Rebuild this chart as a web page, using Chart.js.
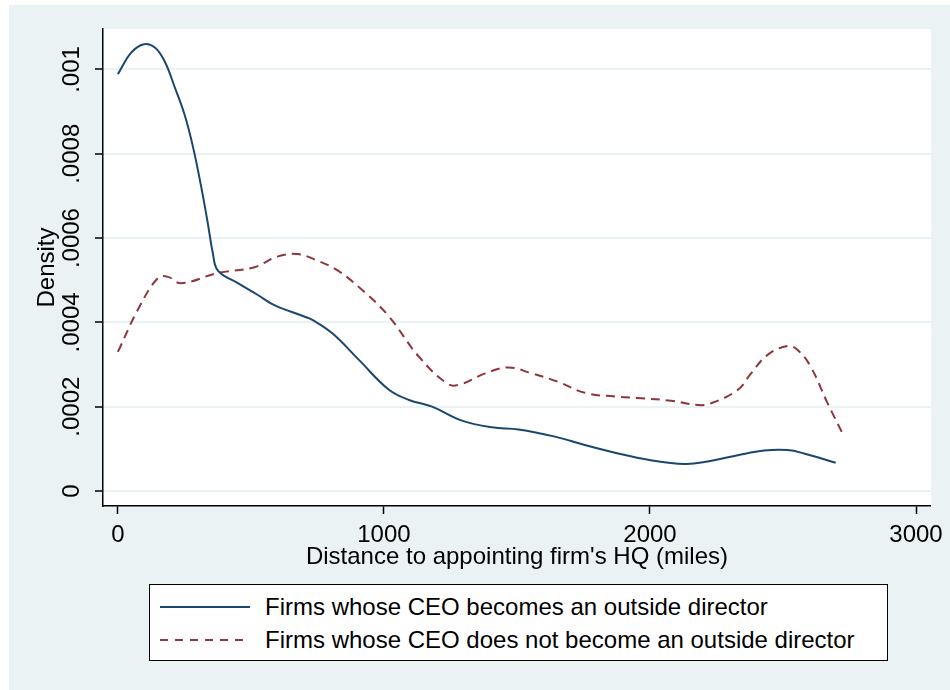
<!DOCTYPE html>
<html>
<head>
<meta charset="utf-8">
<script src="https://cdn.jsdelivr.net/npm/chart.js@4"></script>
<style>
  html, body { margin: 0; padding: 0; background: #fff; }
  body { width: 950px; height: 690px; position: relative; overflow: hidden; font-family: "Liberation Sans", Arial, sans-serif; }
  #bg { position: absolute; left: 9px; top: 5px; right: 0; bottom: 0; background: #eaf2f3; }
  #wrap { position: absolute; left: 0; top: 0; width: 950px; height: 580px; }
  #legend { position: absolute; left: 149px; top: 584px; width: 737px; height: 75px; border: 1px solid #000; background: #fff; }
  .row { position: absolute; left: 0; height: 28px; font-size: 24px; line-height: 28px; color: #000; white-space: nowrap; }
  .row svg { position: absolute; left: 10px; top: 12px; }
  .row span { position: absolute; left: 115px; top: 0; }
</style>
</head>
<body>
<div id="bg"></div>
<div id="wrap"><canvas id="chart"></canvas></div>
<div id="legend">
  <div class="row" style="top: 8px;">
    <svg width="90" height="4"><line x1="0" y1="2" x2="90" y2="2" stroke="#1a476f" stroke-width="2"/></svg>
    <span>Firms whose CEO becomes an outside director</span>
  </div>
  <div class="row" style="top: 41px;">
    <svg width="90" height="4"><line x1="0" y1="2" x2="90" y2="2" stroke="#90353b" stroke-width="2" stroke-dasharray="8,7"/></svg>
    <span>Firms whose CEO does not become an outside director</span>
  </div>
</div>
<script>
// density estimates
const outsideX = [0, 50, 98, 139, 176, 213, 251, 282, 313, 338, 357, 376, 451, 526, 588, 700, 731, 806, 906, 1019, 1094, 1181, 1293, 1406, 1506, 1643, 1755, 1880, 1993, 2130, 2217, 2330, 2430, 2517, 2579, 2698];
const outsideY = [0.000989, 0.00104, 0.00106, 0.001052, 0.001019, 0.000959, 0.000892, 0.000817, 0.000722, 0.000635, 0.000564, 0.000523, 0.000493, 0.000465, 0.000441, 0.000414, 0.000406, 0.000374, 0.000311, 0.00024, 0.000216, 0.0002, 0.000167, 0.000151, 0.000146, 0.000129, 0.000109, 0.000089, 0.000074, 0.000064, 0.00007, 0.000085, 0.000096, 0.000097, 0.000089, 0.000067];

const notOutsideX = [0, 75, 150, 188, 238, 375, 513, 599, 675, 744, 824, 925, 1019, 1131, 1243, 1292, 1381, 1468, 1555, 1655, 1755, 1868, 1967, 2080, 2180, 2229, 2330, 2380, 2442, 2517, 2554, 2604, 2667, 2729];
const notOutsideY = [0.00033, 0.00043, 0.000505, 0.000508, 0.000493, 0.000517, 0.000531, 0.000556, 0.000562, 0.000548, 0.000524, 0.000473, 0.000414, 0.000319, 0.000253, 0.000254, 0.000279, 0.000293, 0.000279, 0.000259, 0.000233, 0.000224, 0.00022, 0.000214, 0.000204, 0.000208, 0.00024, 0.000279, 0.000323, 0.000344, 0.000335, 0.000295, 0.000209, 0.00013];

const xTicks = [0, 1000, 2000, 3000];
const yTicks = [0, 0.0002, 0.0004, 0.0006, 0.0008, 0.001];

const toPoints = (xs, ys) => xs.map((x, i) => ({ x, y: ys[i] }));
const font = { family: '"Liberation Sans", Arial, sans-serif', size: 24 };

// white plot region
const plotBg = {
  id: 'plotBg',
  beforeDraw(chart) {
    const { ctx, chartArea: a } = chart;
    ctx.save();
    ctx.fillStyle = '#fff';
    ctx.fillRect(a.left, a.top, a.right - a.left, a.bottom - a.top);
    ctx.restore();
  }
};

new Chart(document.getElementById('chart'), {
  type: 'line',
  data: {
    datasets: [
      {
        label: 'Firms whose CEO becomes an outside director',
        data: toPoints(outsideX, outsideY),
        borderColor: '#1a476f',
        borderWidth: 2,
        pointRadius: 0,
        tension: 0.4
      },
      {
        label: 'Firms whose CEO does not become an outside director',
        data: toPoints(notOutsideX, notOutsideY),
        borderColor: '#90353b',
        borderWidth: 2,
        borderDash: [9, 6],
        pointRadius: 0,
        tension: 0.4
      }
    ]
  },
  plugins: [plotBg],
  options: {
    responsive: true,
    maintainAspectRatio: false,
    animation: false,
    layout: { padding: { left: 0, right: 16, top: 29, bottom: 0 } },
    plugins: { legend: { display: false }, tooltip: { enabled: false } },
    scales: {
      x: {
        type: 'linear',
        min: -56,
        max: 3056,
        afterBuildTicks: s => { s.ticks = xTicks.map(v => ({ value: v })); },
        afterFit: s => { s.height = 74; },
        ticks: { font, color: '#000', padding: 7, maxRotation: 0, callback: v => String(v) },
        grid: { drawOnChartArea: false, drawTicks: true, tickLength: 8, tickColor: '#000', tickWidth: 1.5 },
        border: { display: true, color: '#000', width: 1.5 },
        title: { display: true, text: "Distance to appointing firm's HQ (miles)", font, color: '#000', padding: { top: 0, bottom: 8 } }
      },
      y: {
        type: 'linear',
        min: -0.0000356,
        max: 0.001096,
        afterBuildTicks: s => { s.ticks = yTicks.map(v => ({ value: v })); },
        afterFit: s => { s.width = 103; },
        ticks: {
          font, color: '#000', padding: -7, minRotation: 90, maxRotation: 90, crossAlign: 'center',
          callback: v => v === 0 ? '0' : v.toFixed(4).replace(/0+$/, '').replace(/^0/, '')
        },
        grid: { color: '#eaf2f3', lineWidth: 2, tickLength: 8, tickColor: '#000', tickWidth: 1.5 },
        border: { display: true, color: '#000', width: 1.5 },
        title: { display: true, text: 'Density', font, color: '#000', padding: { top: 33, bottom: 0 } }
      }
    }
  }
});
</script>
</body>
</html>
